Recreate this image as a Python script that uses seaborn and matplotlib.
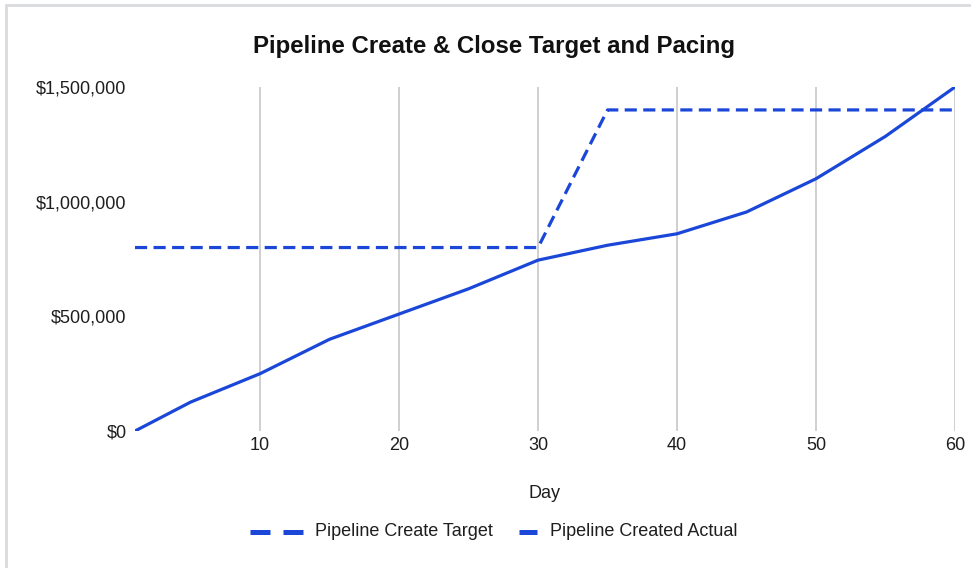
import matplotlib
matplotlib.use("Agg")
import matplotlib.pyplot as plt
from matplotlib.lines import Line2D
from matplotlib.ticker import FuncFormatter
import seaborn as sns
import pandas as pd

# Day-by-day pipeline figures (sampled every 5 days)
days = [1, 5, 10, 15, 20, 25, 30, 35, 40, 45, 50, 55, 60]
target = [800000, 800000, 800000, 800000, 800000, 800000, 800000,
          1400000, 1400000, 1400000, 1400000, 1400000, 1400000]
actual = [0, 126000, 250000, 400000, 510000, 620000, 745000,
          810000, 860000, 955000, 1100000, 1285000, 1500000]

series_names = ["Pipeline Create Target", "Pipeline Created Actual"]
x_ticks = [10, 20, 30, 40, 50, 60]
y_ticks = [0, 500000, 1000000, 1500000]

sns.set_theme(style="white")
plt.rcParams["font.family"] = ["Liberation Sans", "DejaVu Sans"]

W, H = 971, 568
blue = "#1a47d8"
text_col = "#1e1e1e"

df = pd.DataFrame({
    "Day": days * 2,
    "Value": target + actual,
    "Series": [series_names[0]] * len(days) + [series_names[1]] * len(days),
})

fig = plt.figure(figsize=(W / 100, H / 100), dpi=100)
ax = fig.add_axes([135 / W, 1 - 431 / H, 820 / W, 344 / H])

sns.lineplot(
    data=df, x="Day", y="Value", hue="Series", style="Series",
    palette=[blue, blue], dashes=[(3.8, 2.0), ""], linewidth=2.3,
    ax=ax, legend=False,
)

ax.set_xlim(1, 60)
ax.set_ylim(0, 1500000)
ax.set_xticks(x_ticks)
ax.set_yticks(y_ticks)
ax.yaxis.set_major_formatter(FuncFormatter(lambda v, _: f"${v:,.0f}"))
ax.grid(axis="x", color="#cccccc", linewidth=1.3)
ax.grid(axis="y", visible=False)
ax.set_axisbelow(True)
for s in ax.spines.values():
    s.set_visible(False)
ax.tick_params(axis="both", length=0, labelsize=13, labelcolor=text_col)
ax.tick_params(axis="x", pad=4)
ax.tick_params(axis="y", pad=6)

ax.set_xlabel("")
ax.set_ylabel("")
fig.text(545 / W, 1 - 494 / H, "Day", ha="center", va="center",
         fontsize=13, color=text_col)

fig.text(494 / W, 1 - 46 / H, "Pipeline Create & Close Target and Pacing",
         ha="center", va="center", fontsize=17.3, fontweight="bold", color="#111111")

# legend row below the axis title
ly = 1 - 532 / H
fig.add_artist(Line2D([250 / W, 303 / W], [ly, ly], transform=fig.transFigure,
                      color=blue, linewidth=3.6, solid_capstyle="butt",
                      dash_capstyle="butt", linestyle=(0, (4.0, 2.6))))
fig.text(315 / W, ly, series_names[0], ha="left", va="center",
         fontsize=13, color=text_col)
fig.add_artist(Line2D([519 / W, 537 / W], [ly, ly], transform=fig.transFigure,
                      color=blue, linewidth=3.6, solid_capstyle="butt"))
fig.text(550 / W, ly, series_names[1], ha="left", va="center",
         fontsize=13, color=text_col)

# light frame along the top and left edges
fig.add_artist(Line2D([6 / W, 6 / W], [0, 1 - 5 / H], transform=fig.transFigure,
                      color="#d8dadd", linewidth=2))
fig.add_artist(Line2D([6 / W, 1], [1 - 5 / H, 1 - 5 / H], transform=fig.transFigure,
                      color="#d8dadd", linewidth=2))

fig.savefig("out.png", dpi=100)
